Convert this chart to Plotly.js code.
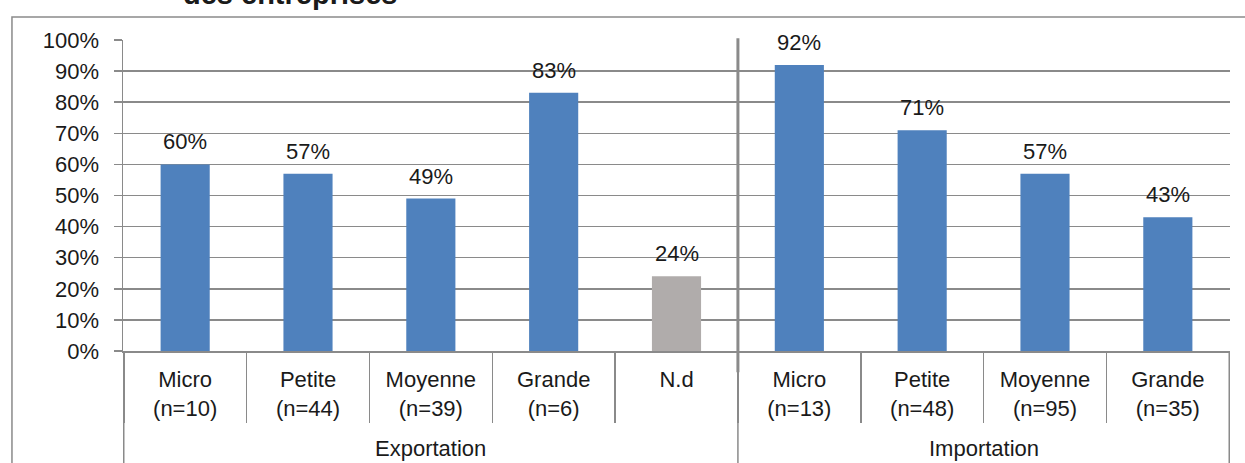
<!DOCTYPE html>
<html>
<head>
<meta charset="utf-8">
<script src="https://cdn.plot.ly/plotly-3.0.1.min.js"></script>
<style>
  html, body { margin: 0; padding: 0; background: #ffffff; }
  #chart { width: 1245px; height: 463px; }
</style>
</head>
<body>
<div id="chart"></div>
<script>
// Share of firms per size class, split by trade flow
const groupNames = ['Exportation', 'Importation'];
const groupSizes = [5, 4];
const categoryNames = ['Micro', 'Petite', 'Moyenne', 'Grande', 'N.d', 'Micro', 'Petite', 'Moyenne', 'Grande'];
const sampleSizes = ['n=10', 'n=44', 'n=39', 'n=6', '', 'n=13', 'n=48', 'n=95', 'n=35'];
const shares = [60, 57, 49, 83, 24, 92, 71, 57, 43];
const titleTail = 'des entreprises';

const BLUE = '#4F81BD';
const GREY_BAR = '#B0ACAB';
const LINE = '#8A8A8A';
const TEXT = '#1A1A1A';
const FONT = '"Liberation Sans", Arial, sans-serif';

// Two-line category labels: size class + sample size
const tickLabels = categoryNames.map((name, i) =>
  sampleSizes[i] ? name + '<br>(' + sampleSizes[i] + ')' : name);
const barColors = categoryNames.map(name => name === 'N.d' ? GREY_BAR : BLUE);

// Group boundaries in category units
const bounds = [-0.5];
groupSizes.forEach(n => bounds.push(bounds[bounds.length - 1] + n));

const trace = {
  type: 'bar',
  x: tickLabels,
  y: shares,
  marker: { color: barColors, line: { width: 0 } },
  hoverinfo: 'skip'
};

const shapes = [];
// frame around the chart area
shapes.push({
  type: 'rect', xref: 'paper', yref: 'paper',
  x0: -0.1003, x1: 1.05, y0: -0.6, y1: 1.074,
  line: { color: LINE, width: 1.5 }, fillcolor: 'rgba(0,0,0,0)', layer: 'below'
});
// group separators below the axis
bounds.forEach(b => {
  shapes.push({
    type: 'line', xref: 'x', yref: 'paper',
    x0: b, x1: b, y0: 0, y1: -0.45,
    line: { color: LINE, width: 1.5 }
  });
});
// inner group separator running through the plot
bounds.slice(1, -1).forEach(b => {
  shapes.push({
    type: 'line', xref: 'x', yref: 'paper',
    x0: b, x1: b, y0: -0.068, y1: 1.006,
    line: { color: LINE, width: 3 }
  });
});

const annotations = [];
// value labels above bars
shares.forEach((v, i) => {
  annotations.push({
    x: tickLabels[i], y: v, xref: 'x', yref: 'y',
    text: v + '%', showarrow: false,
    yanchor: 'bottom', yshift: 8,
    font: { family: FONT, size: 22, color: TEXT }
  });
});
// group names under the category labels
let start = 0;
groupNames.forEach((g, k) => {
  const mid = start + (groupSizes[k] - 1) / 2;
  annotations.push({
    x: mid, y: -0.315, xref: 'x', yref: 'paper',
    text: g, showarrow: false, yanchor: 'middle',
    font: { family: FONT, size: 22, color: TEXT }
  });
  start += groupSizes[k];
});
// tail of the figure heading
annotations.push({
  x: 0.151, y: 1.1, xref: 'paper', yref: 'paper',
  text: '<b>' + titleTail + '</b>', showarrow: false,
  yanchor: 'bottom', xanchor: 'center', yshift: -3,
  font: { family: FONT, size: 29, color: TEXT }
});

const layout = {
  width: 1245, height: 463,
  margin: { l: 123, r: 15, t: 40, b: 112 },
  paper_bgcolor: '#ffffff', plot_bgcolor: '#ffffff',
  showlegend: false,
  bargap: 0.6,
  font: { family: FONT, size: 22, color: TEXT },
  xaxis: {
    type: 'category',
    tickson: 'boundaries',
    ticks: 'outside', ticklen: 70, tickwidth: 1.5, tickcolor: LINE,
    ticklabelstandoff: 8,
    showgrid: false, zeroline: false,
    showline: true, linecolor: LINE, linewidth: 2,
    tickfont: { family: FONT, size: 22, color: TEXT },
    fixedrange: true
  },
  yaxis: {
    range: [0, 100], dtick: 10, ticksuffix: '%',
    ticks: 'outside', ticklen: 8, tickwidth: 1.5, tickcolor: LINE,
    ticklabelstandoff: 10,
    showgrid: true, gridcolor: LINE, gridwidth: 1.5,
    zeroline: false,
    showline: true, linecolor: LINE, linewidth: 1.5,
    tickfont: { family: FONT, size: 22, color: TEXT },
    fixedrange: true
  },
  shapes: shapes,
  annotations: annotations
};

Plotly.newPlot('chart', [trace], layout, { displayModeBar: false, staticPlot: true });
</script>
</body>
</html>
